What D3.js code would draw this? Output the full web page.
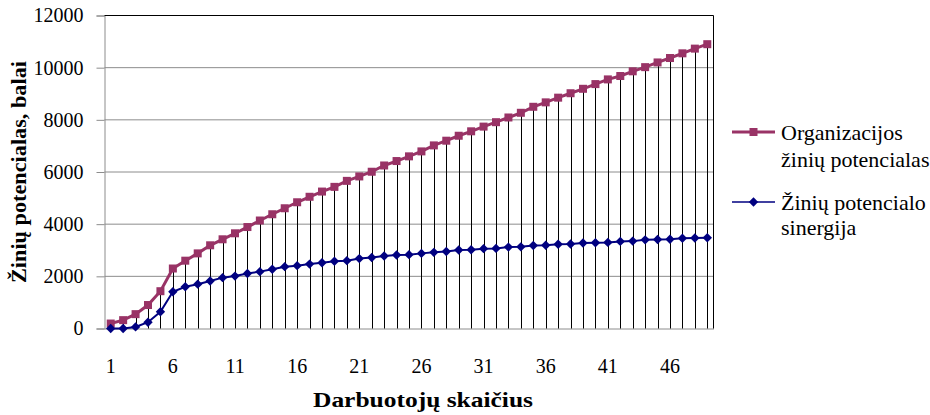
<!DOCTYPE html>
<html>
<head>
<meta charset="utf-8">
<script src="https://cdn.jsdelivr.net/npm/d3@7"></script>
<style>
  html, body { margin: 0; padding: 0; background: #fff; }
  svg text { font-family: "Liberation Serif", "Times New Roman", Times, serif !important; }
</style>
</head>
<body>
<svg id="chart" width="930" height="415"></svg>
<script>
// Number of employees (categories 1..49)
const employees = d3.range(1, 50);

// Organisation's knowledge potential
const orgPotential = [
  190, 320, 550, 900, 1430, 2300, 2600, 2880, 3190, 3420,
  3650, 3890, 4140, 4380, 4610, 4840, 5050, 5250, 5430, 5660,
  5830, 6010, 6250, 6420, 6600, 6790, 7020, 7200, 7390, 7560,
  7740, 7910, 8090, 8270, 8500, 8670, 8850, 9020, 9190, 9370,
  9550, 9680, 9860, 10020, 10200, 10370, 10550, 10730, 10900
];

// Synergy of knowledge potential
const synergy = [
  0, 0, 60, 240, 640, 1410, 1600, 1700, 1820, 1950,
  2010, 2110, 2180, 2270, 2370, 2410, 2470, 2520, 2580, 2600,
  2680, 2720, 2780, 2820, 2830, 2880, 2920, 2950, 3010, 3020,
  3060, 3070, 3120, 3130, 3180, 3190, 3230, 3240, 3280, 3290,
  3300, 3340, 3350, 3400, 3410, 3420, 3460, 3470, 3480
];

const yTicks = [0, 2000, 4000, 6000, 8000, 10000, 12000];
const xTickLabels = [1, 6, 11, 16, 21, 26, 31, 36, 41, 46];

const seriesNames = [
  ["Organizacijos", "žinių potencialas"],
  ["Žinių potencialo", "sinergija"]
];
const seriesColors = ["#993366", "#000080"];

const svg = d3.select("#chart");
const plot = { left: 104.5, right: 713.5, top: 15.5, bottom: 328.5 };

const x = d3.scaleBand().domain(employees).range([plot.left, plot.right]);
const y = d3.scaleLinear().domain([0, 12000]).range([plot.bottom, plot.top]);
const cx = d => x(d) + x.bandwidth() / 2;

// horizontal gridlines
svg.append("g")
  .selectAll("line")
  .data(yTicks.slice(1, -1))
  .join("line")
  .attr("x1", plot.left).attr("x2", plot.right)
  .attr("y1", d => y(d)).attr("y2", d => y(d))
  .attr("stroke", "#8c8c8c").attr("stroke-width", 1);

// y axis with outward ticks
const yAxis = svg.append("g")
  .attr("transform", `translate(${plot.left},0)`)
  .call(d3.axisLeft(y).tickValues(yTicks).tickSize(8).tickPadding(13).tickFormat(d3.format("d")));
yAxis.attr("font-family", null);
yAxis.select(".domain").attr("stroke", "#8c8c8c");
yAxis.selectAll(".tick line").attr("stroke", "#8c8c8c");
yAxis.selectAll(".tick text").attr("font-size", 20).attr("fill", "#000");

// x axis labels (no tick marks)
const xAxis = svg.append("g")
  .attr("transform", `translate(0,${plot.bottom})`)
  .call(d3.axisBottom(x).tickValues(xTickLabels).tickSize(0).tickPadding(30));
xAxis.attr("font-family", null);
xAxis.select(".domain").attr("stroke", "#8c8c8c");
xAxis.selectAll(".tick text").attr("font-size", 20).attr("fill", "#000");

// top and right borders of the plot area
svg.append("path")
  .attr("d", `M${plot.left},${plot.top}H${plot.right}V${plot.bottom}`)
  .attr("fill", "none").attr("stroke", "#000").attr("stroke-width", 1);

// drop lines from the upper series down to the axis
svg.append("g")
  .selectAll("line")
  .data(employees)
  .join("line")
  .attr("x1", d => Math.round(cx(d)) + 0.5).attr("x2", d => Math.round(cx(d)) + 0.5)
  .attr("y1", (d, i) => y(Math.max(orgPotential[i], synergy[i])))
  .attr("y2", y(0))
  .attr("stroke", "#000").attr("stroke-width", 1);

// series lines
const line = d3.line().x((d, i) => cx(employees[i])).y(d => y(d));
svg.append("path").datum(orgPotential).attr("d", line)
  .attr("fill", "none").attr("stroke", seriesColors[0]).attr("stroke-width", 3);
svg.append("path").datum(synergy).attr("d", line)
  .attr("fill", "none").attr("stroke", seriesColors[1]).attr("stroke-width", 2);

// markers
const sq = 8;
svg.append("g").selectAll("rect")
  .data(orgPotential).join("rect")
  .attr("x", (d, i) => cx(employees[i]) - sq / 2)
  .attr("y", d => y(d) - sq / 2)
  .attr("width", sq).attr("height", sq)
  .attr("fill", seriesColors[0]);

const diamondPath = d3.symbol().type(d3.symbolSquare).size(44);
svg.append("g").selectAll("path")
  .data(synergy).join("path")
  .attr("transform", (d, i) => `translate(${cx(employees[i])},${y(d)}) rotate(45)`)
  .attr("d", diamondPath)
  .attr("fill", seriesColors[1]);

// axis titles
svg.append("text")
  .attr("x", 423).attr("y", 407)
  .attr("text-anchor", "middle")
  .attr("font-size", 22).attr("font-weight", "bold")
  .attr("textLength", 220).attr("lengthAdjust", "spacingAndGlyphs")
  .text("Darbuotojų skaičius");

svg.append("text")
  .attr("transform", `translate(26,${(plot.top + plot.bottom) / 2}) rotate(-90)`)
  .attr("text-anchor", "middle")
  .attr("font-size", 20).attr("font-weight", "bold")
  .attr("textLength", 222).attr("lengthAdjust", "spacingAndGlyphs")
  .text("Žinių potencialas, balai");

// legend
const legend = svg.append("g");
const legendY = [132, 202];
const legendGap = [27, 25];
seriesNames.forEach((lines, k) => {
  const g = legend.append("g").attr("transform", `translate(0,${legendY[k]})`);
  g.append("line").attr("x1", 732).attr("x2", 775).attr("y1", 0).attr("y2", 0)
    .attr("stroke", seriesColors[k]).attr("stroke-width", k === 0 ? 3 : 1.5);
  if (k === 0) {
    g.append("rect").attr("x", 749.5).attr("y", -4).attr("width", 8).attr("height", 8)
      .attr("fill", seriesColors[k]);
  } else {
    g.append("path").attr("transform", "translate(753.5,0) rotate(45)")
      .attr("d", diamondPath)
      .attr("fill", seriesColors[k]);
  }
  g.append("text").attr("x", 781).attr("y", 8)
    .attr("font-size", 22)
    .selectAll("tspan").data(lines).join("tspan")
    .attr("x", 781).attr("dy", (d, i) => i === 0 ? 0 : legendGap[k])
    .text(d => d);
});
</script>
</body>
</html>
